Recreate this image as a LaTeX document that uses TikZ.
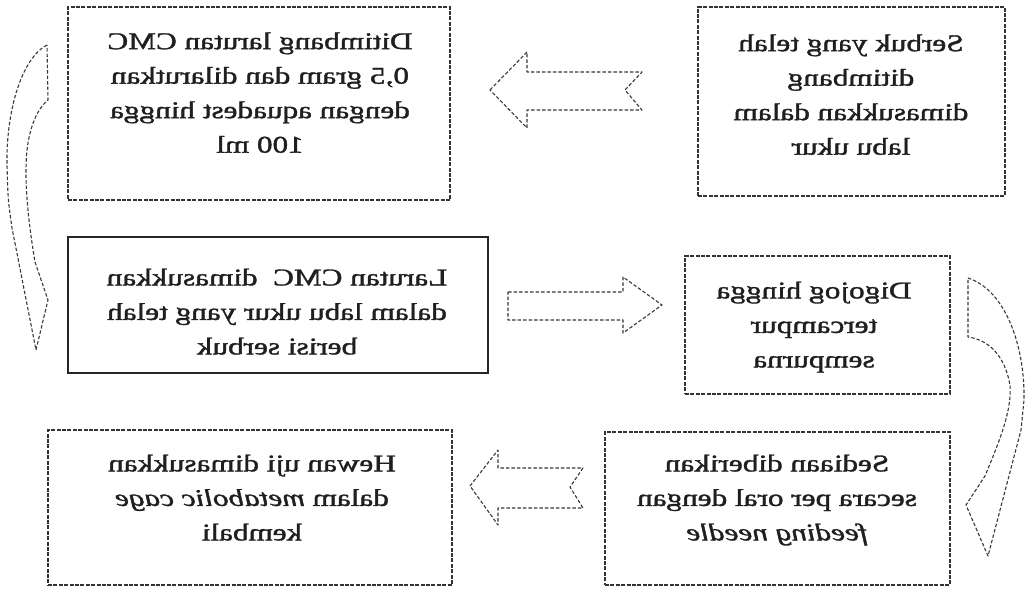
\documentclass[tikz,border=0pt]{standalone}
\usepackage{fontspec}
\setmainfont{Liberation Serif}[BoldFont={Liberation Serif},BoldFeatures={FakeBold=1.3},BoldItalicFont={Liberation Serif Italic},BoldItalicFeatures={FakeBold=1.3}]
\newcommand\mirtext[1]{\scalebox{-1.3}[1]{\begin{tabular}{@{}c@{}}#1\end{tabular}}}
\tikzset{
  boxdash/.style={draw=black!80, line width=1.1pt, dash pattern=on 4pt off 1.4pt, inner sep=0pt},
  boxsolid/.style={draw=black!85, line width=1.3pt, inner sep=0pt},
  txt/.style={inner sep=0pt, text=black!88, font=\fontsize{24}{34.5}\selectfont\bfseries},
  blockarrow/.style={draw=black!78, line width=1.1pt, dash pattern=on 3.5pt off 2pt, line join=round}
}
\begin{document}
\begin{tikzpicture}[x=1pt,y=-1pt]
\useasboundingbox (0,0) rectangle (1026,593);
% boxes
\node[boxdash, minimum width=382, minimum height=193] (tl) at (259,103.5) {};
\node[boxdash, minimum width=307, minimum height=189] (tr) at (851.5,101.5) {};
\node[boxsolid, minimum width=420, minimum height=136] (ml) at (278,305) {};
\node[boxdash, minimum width=265, minimum height=138] (mr) at (817.5,325) {};
\node[boxdash, minimum width=404, minimum height=155] (bl) at (250,507.5) {};
\node[boxdash, minimum width=345, minimum height=153] (br) at (777.5,508.5) {};
% texts (mirrored as in the reference)
\node[txt] (tlt) at (260,94) {\mirtext{Ditimbang larutan CMC\\0,5 gram dan dilarutkan\\dengan aquadest hingga\\100 ml}};
\node[txt] (trt) at (851,96) {\mirtext{Serbuk yang telah\\ditimbang\\dimasukkan dalam\\labu ukur}};
\node[txt] (mlt) at (277,313) {\mirtext{Larutan CMC\ \ dimasukkan\\dalam labu ukur yang telah\\berisi serbuk}};
\node[txt] (mrt) at (814,326) {\mirtext{Digojog hingga\\tercampur\\sempurna}};
\node[txt] (brt) at (777,499) {\mirtext{Sediaan diberikan\\secara per oral dengan\\\textit{feeding needle}}};
\node[txt] (blt) at (252,499) {\mirtext{Hewan uji dimasukkan\\dalam \textit{metabolic cage}\\kembali}};
% top block arrow (pointing left)
\draw[blockarrow] (490,90) -- (527,52) -- (527,72) -- (642,72) -- (625,90) -- (642,110) -- (527,110) -- (527,128) -- cycle;
% middle block arrow (pointing right)
\draw[blockarrow] (508,292) -- (623,292) -- (623,277) -- (662,305) -- (623,333) -- (623,320) -- (508,320) -- cycle;
% bottom block arrow (pointing left)
\draw[blockarrow] (470,486) -- (498,450) -- (498,468) -- (583,468) -- (570,487) -- (583,508) -- (498,508) -- (498,525) -- cycle;
% right curved arrow
\draw[blockarrow] (968,278) .. controls (1005,290) and (1025,345) .. (1024,400)
  .. controls (1023,415) .. (1021,430) -- (988,556) -- (966,505) -- (985,476)
  .. controls (1000,440) and (1012,410) .. (1010,385)
  .. controls (1005,357) and (990,340) .. (968,337) -- cycle;
% left curved arrow
\draw[blockarrow] (47,45) .. controls (22,58) and (6,110) .. (7,165)
  .. controls (8,200) .. (12,228) -- (36,350) -- (48,300) -- (35,262)
  .. controls (28,220) and (24,180) .. (27,150)
  .. controls (30,125) and (38,108) .. (48,100) -- cycle;
\end{tikzpicture}
\end{document}
